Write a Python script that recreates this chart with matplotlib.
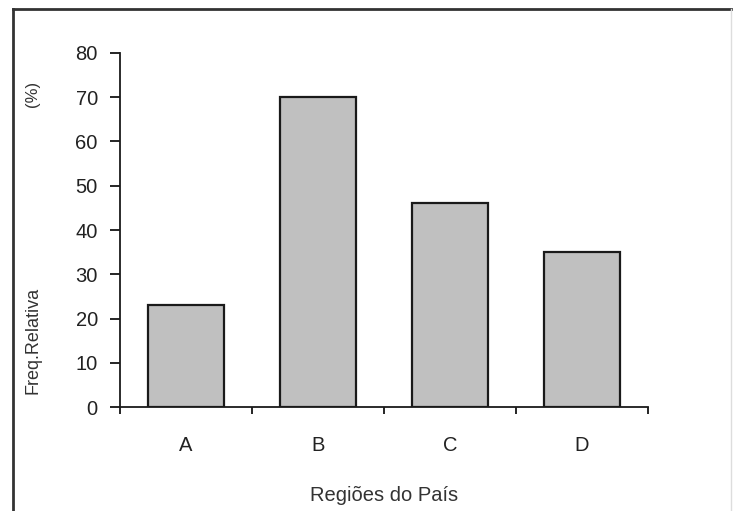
import matplotlib.pyplot as plt
from matplotlib.lines import Line2D

# Relative frequency (%) by region
regions = ["A", "B", "C", "D"]
freq_rel = [23, 70, 46, 35]
y_ticks = [0, 10, 20, 30, 40, 50, 60, 70, 80]

plt.rcParams['font.family'] = ['Liberation Sans', 'DejaVu Sans']

fig = plt.figure(figsize=(7.33, 5.11), dpi=100)
ax = fig.add_axes([0.1637, 0.2035, 0.7203, 0.6928])

x = range(len(regions))
ax.bar(x, freq_rel, width=0.57, color='#c0c0c0', edgecolor='#1a1a1a',
       linewidth=1.6, zorder=2)

ax.set_xlim(-0.5, len(regions) - 0.5)
ax.set_ylim(0, 80)
ax.set_yticks(y_ticks)
ax.set_yticklabels([str(v) for v in y_ticks], fontsize=14.5, color='#222222')

# boundary ticks between categories, labels centred under the bars
ax.set_xticks([i - 0.5 for i in range(len(regions) + 1)])
ax.set_xticklabels([])
ax.set_xticks(list(x), minor=True)
ax.set_xticklabels(regions, minor=True, fontsize=14.5, color='#222222')
ax.tick_params(axis='x', which='major', direction='out', length=5, width=1.2)
ax.tick_params(axis='x', which='minor', length=0, pad=21)
ax.tick_params(axis='y', direction='out', length=7, width=1.2, pad=9)

for side in ['top', 'right']:
    ax.spines[side].set_visible(False)
for side in ['left', 'bottom']:
    ax.spines[side].set_linewidth(1.3)
    ax.spines[side].set_color('#1a1a1a')

ax.set_xlabel("Regiões do País", fontsize=14.5, color='#333333', labelpad=22)

fig.text(0.045, 0.333, "Freq.Relativa", rotation=90, fontsize=13,
         color='#333333', ha='center', va='center')
fig.text(0.045, 0.816, "(%)", rotation=90, fontsize=12,
         color='#333333', ha='center', va='center')

# outer frame
fig.add_artist(Line2D([0.018, 0.018], [0.0, 0.983], color='#333333', lw=2))
fig.add_artist(Line2D([0.018, 0.997], [0.983, 0.983], color='#333333', lw=2))
fig.add_artist(Line2D([0.997, 0.997], [0.0, 0.983], color='#dddddd', lw=1))

fig.savefig('out.png', dpi=100)
